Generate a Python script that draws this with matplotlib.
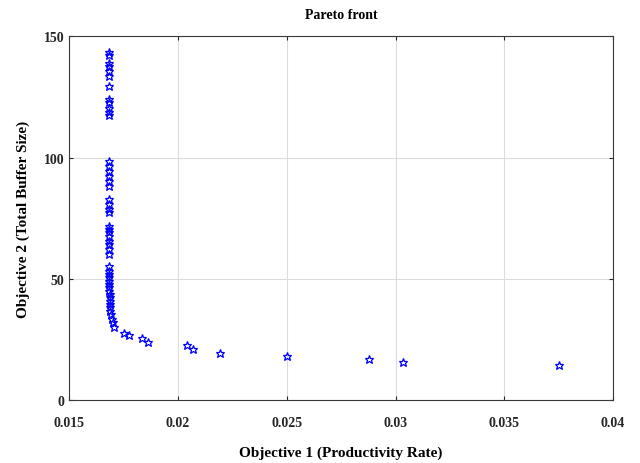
import numpy as np
import matplotlib
matplotlib.use('Agg')
import matplotlib.pyplot as plt

# Pareto front points
obj1 = [0.01681, 0.01681, 0.01681, 0.01681, 0.01681, 0.01681, 0.01681,
        0.01681, 0.01681, 0.01681, 0.01681, 0.01681,
        0.01681, 0.01681, 0.01681, 0.01681, 0.01681, 0.01681,
        0.01681, 0.01681, 0.01681, 0.01681,
        0.01681, 0.01681, 0.01681, 0.01681, 0.01681, 0.01681, 0.01681, 0.01681,
        0.01681, 0.01681, 0.01681, 0.01683, 0.01683, 0.01683, 0.01684, 0.01685,
        0.01686, 0.01687, 0.01688, 0.01688, 0.01689, 0.01690, 0.01692, 0.01696,
        0.01700, 0.01707,
        0.01753, 0.01773, 0.01834, 0.01864, 0.02041, 0.02068, 0.02194, 0.02500,
        0.02880, 0.03034, 0.03753]
obj2 = [143.4, 142.3, 138.9, 137.5, 135.8, 133.7, 129.6,
        124.1, 122.8, 120.4, 118.9, 117.6,
        98.7, 96.7, 94.6, 92.5, 90.5, 88.4,
        82.9, 80.9, 78.9, 77.5,
        71.9, 70.6, 69.2, 67.8, 65.8, 64.4, 62.4, 60.3,
        55.2, 53.4, 52.0, 50.7, 49.3, 47.9, 46.6, 45.2,
        43.8, 42.4, 41.0, 39.7, 38.3, 36.9, 35.6, 33.5,
        32.1, 30.1,
        27.7, 26.9, 25.8, 24.1, 22.8, 21.1, 19.5, 18.4,
        17.0, 15.9, 14.5]

plt.rc('font', family='Liberation Serif', weight='bold')

fig = plt.figure(figsize=(6.4, 4.64), dpi=100)
ax = fig.add_axes([0.108, 0.135, 0.850, 0.785])

ax.plot(obj1, obj2, linestyle='none', marker='*', markersize=6.3,
        markerfacecolor='none', markeredgecolor='blue', markeredgewidth=0.9)

ax.set_xlim(0.015, 0.04)
ax.set_ylim(0, 150)
ax.set_xticks([0.015, 0.02, 0.025, 0.03, 0.035, 0.04])
ax.set_xticklabels(['0.015', '0.02', '0.025', '0.03', '0.035', '0.04'])
ax.set_yticks([0, 50, 100, 150])
ax.grid(True, color='#dcdcdc', linewidth=0.8)
ax.tick_params(direction='in', length=3, top=True, right=True, labelsize=10,
               colors='#262626')
ax.tick_params(axis='x', pad=11)
for s in ax.spines.values():
    s.set_color('#3a3a3a')
    s.set_linewidth(0.8)

ax.set_title('Pareto front', fontsize=10, fontweight='bold', pad=13)
ax.set_xlabel('Objective 1 (Productivity Rate)', fontsize=11, fontweight='bold', labelpad=12)
ax.set_ylabel('Objective 2 (Total Buffer Size)', fontsize=11, fontweight='bold', labelpad=10)

fig.savefig('out.png', dpi=100)
plt.close()
